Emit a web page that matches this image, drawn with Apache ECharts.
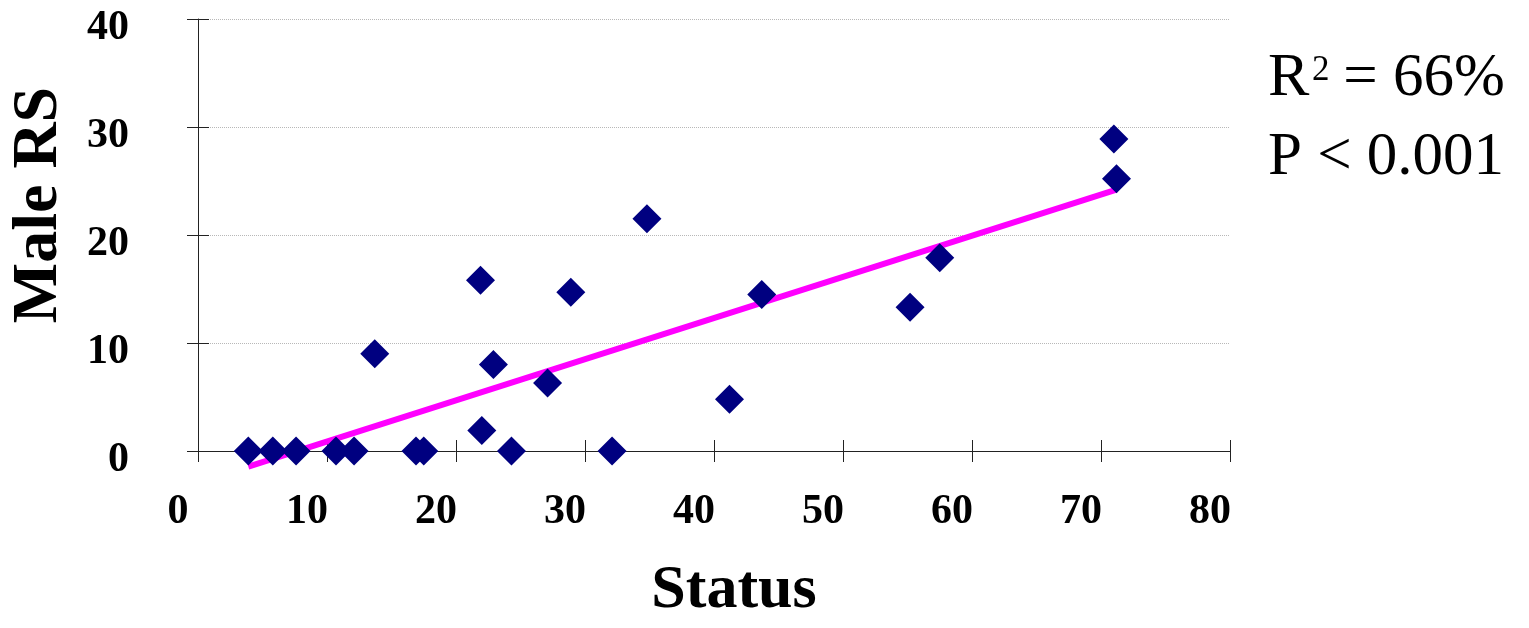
<!DOCTYPE html>
<html><head><meta charset="utf-8">
<script src="https://cdn.jsdelivr.net/npm/echarts@6/dist/echarts.min.js"></script>
<style>html,body{margin:0;padding:0;background:#fff}#c{width:1529px;height:628px}</style>
</head><body><div id="c"></div><script>
// Data
const statusValues = [3.9, 5.8, 7.6, 10.7, 12.1, 16.9, 17.5, 22.0, 24.3, 32.1, 13.7, 21.9, 22.9, 27.1, 28.9, 34.8, 41.2, 43.7, 55.2, 57.5, 71.0, 71.2];
const maleRS       = [0,   0,   0,   0,    0,    0,    0,    1.9,  0,    0,    9.0,  15.8, 8.0,  6.3,  14.7, 21.5, 4.8,  14.5, 13.3, 17.9, 28.9, 25.2];
const trendStatus = [3.9, 71.2];
const trendRS     = [-1.45, 24.2];
const xRange = [0, 80, 10];
const yRange = [0, 40, 10];
const xAxisTitle = 'Status';
const yAxisTitle = 'Male RS';
const statLine1 = ['R', '2', ' = 66%'];
const statLine2 = 'P < 0.001';

const serif = '"Liberation Serif", "Times New Roman", serif';
const points = statusValues.map((x, i) => [x, maleRS[i]]);
const trend = trendStatus.map((x, i) => [x, trendRS[i]]);

const chart = echarts.init(document.getElementById('c'), null, {renderer: 'canvas'});
const tickStyle = {color: '#222', width: 1};
chart.setOption({
  backgroundColor: '#fff',
  animation: false,
  grid: {left: 198, right: 299, top: 19, bottom: 177, containLabel: false},
  xAxis: [{
    type: 'value', min: xRange[0], max: xRange[1], interval: xRange[2], position: 'bottom',
    axisLine: {show: true, onZero: false, lineStyle: {color: '#222', width: 1}},
    axisTick: {show: true, inside: false, length: 11, lineStyle: tickStyle},
    axisLabel: {show: true, margin: 40, color: '#000', fontFamily: serif, fontWeight: 'bold', fontSize: 42,
      align: 'center', padding: [0, 40, 0, 0]},
    splitLine: {show: false}
  }, {
    type: 'value', min: xRange[0], max: xRange[1], interval: xRange[2], position: 'bottom',
    axisLine: {show: false},
    axisTick: {show: true, inside: true, length: 11, lineStyle: tickStyle},
    axisLabel: {show: false}, splitLine: {show: false}
  }],
  yAxis: [{
    type: 'value', min: yRange[0], max: yRange[1], interval: yRange[2], position: 'left',
    axisLine: {show: true, onZero: false, lineStyle: {color: '#222', width: 1}},
    axisTick: {show: true, inside: false, length: 11, lineStyle: tickStyle},
    axisLabel: {show: true, margin: 69, color: '#000', fontFamily: serif, fontWeight: 'bold', fontSize: 42,
      verticalAlign: 'top', lineHeight: 18},
    splitLine: {show: true, lineStyle: {color: '#b8b8b8', type: 'dotted', width: 1}}
  }, {
    type: 'value', min: yRange[0], max: yRange[1], interval: yRange[2], position: 'left',
    axisLine: {show: false},
    axisTick: {show: true, inside: true, length: 11, lineStyle: tickStyle},
    axisLabel: {show: false}, splitLine: {show: false}
  }],
  series: [{
    type: 'line', data: trend, xAxisIndex: 0, yAxisIndex: 0,
    symbol: 'none', clip: false, z: 2,
    lineStyle: {color: '#ff00ff', width: 6}
  }, {
    type: 'scatter', data: points, xAxisIndex: 0, yAxisIndex: 0,
    symbol: 'diamond', symbolSize: 29, clip: false, z: 3,
    itemStyle: {color: '#000080', opacity: 1}
  }],
  graphic: [{
    type: 'text', x: 734, y: 591,
    style: {text: xAxisTitle, font: 'bold 62px ' + serif, fill: '#000', align: 'center', verticalAlign: 'middle'}
  }, {
    type: 'text', x: 39, y: 205, rotation: Math.PI / 2,
    style: {text: yAxisTitle, font: 'bold 64px ' + serif, fill: '#000', align: 'center', verticalAlign: 'middle'}
  }, {
    type: 'text', x: 1268, y: 79,
    style: {text: statLine1[0], font: '62px ' + serif, fill: '#000', align: 'left', verticalAlign: 'middle'}
  }, {
    type: 'text', x: 1312, y: 71,
    style: {text: statLine1[1], font: '35px ' + serif, fill: '#000', align: 'left', verticalAlign: 'middle'}
  }, {
    type: 'text', x: 1328, y: 79,
    style: {text: statLine1[2], font: '61px ' + serif, fill: '#000', align: 'left', verticalAlign: 'middle'}
  }, {
    type: 'text', x: 1268, y: 158,
    style: {text: statLine2, font: '61px ' + serif, fill: '#000', align: 'left', verticalAlign: 'middle'}
  }]
});
</script></body></html>
